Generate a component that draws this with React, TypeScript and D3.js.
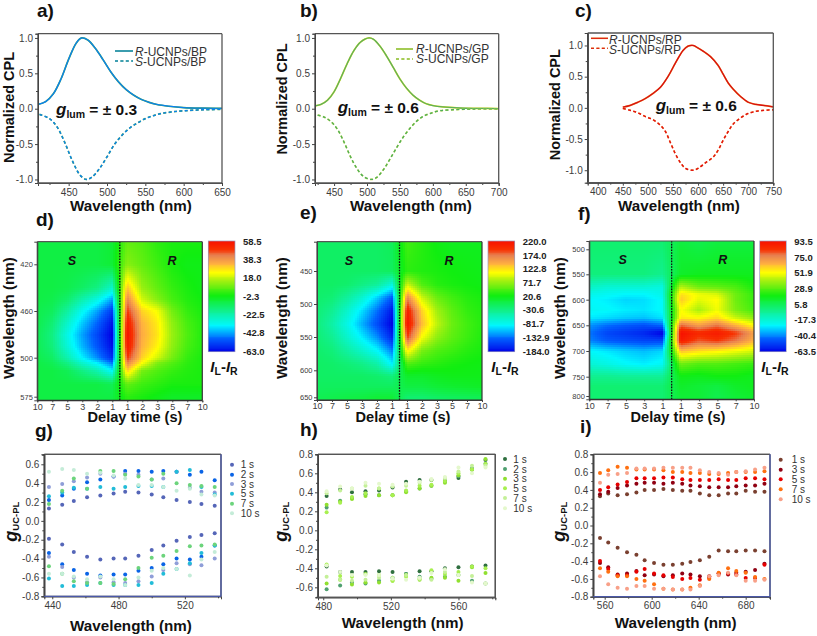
import React, { useEffect, useRef } from "react";
import * as d3 from "d3";

// ---------- CPL spectra (wavelength nm, normalized value) ----------
const aRWave = [410,420,430,440,450,460,467,475,485,495,505,515,525,535,545,555,565,580,600,625,650];
const aRVal = [.06,.10,.21,.42,.70,.93,1.0,.97,.85,.69,.52,.38,.27,.19,.13,.09,.06,.035,.015,.007,.005];
const aSWave = [412,425,435,445,455,465,473,480,490,500,510,520,530,540,550,560,570,585,600,625,650];
const aSVal = [-.08,-.14,-.26,-.48,-.74,-.94,-1.0,-.97,-.85,-.68,-.50,-.37,-.27,-.20,-.14,-.10,-.07,-.045,-.03,-.015,-.01];
const bRWave = [421,430,440,450,460,470,480,490,503,510,520,530,540,550,560,570,580,590,600,615,640,670,700];
const bRVal = [.04,.06,.12,.24,.43,.64,.82,.94,1.0,.98,.88,.74,.58,.42,.29,.19,.12,.07,.045,.025,.01,.005,.002];
const bSWave = [425,435,445,455,465,475,485,495,507,515,525,535,545,555,565,575,585,595,610,630,660,700];
const bSVal = [-.09,-.12,-.18,-.29,-.47,-.68,-.85,-.96,-1.0,-.97,-.86,-.71,-.55,-.40,-.28,-.18,-.11,-.07,-.03,-.015,-.005,-.002];
const cWave = [450,465,480,495,510,525,540,555,570,580,590,600,610,625,640,650,660,670,685,700,715,730,750];
const cRVal = [.01,.04,.09,.15,.23,.33,.50,.72,.92,.99,1.0,.96,.91,.82,.68,.54,.40,.30,.18,.09,.055,.04,.015];
const cSWave = [450,465,480,495,510,525,535,545,555,565,575,590,600,615,630,640,650,660,670,685,700,715,730,750];
const cSVal = [-.01,-.04,-.08,-.14,-.19,-.28,-.38,-.56,-.74,-.88,-.97,-1.0,-.97,-.88,-.79,-.68,-.52,-.38,-.26,-.16,-.09,-.055,-.04,-.03];

// ---------- heat maps ----------
const delayD = ["10","7","5","3","2","1","1","2","3","5","7","10"];
const delayF = ["10","7","5","3","1","1","3","5","7","10"];
const dRows = [400,420,440,450,460,470,480,490,500,510,525,550,575,580];
const dMatrix = [
  [-8,-8,-8,-8,-8,-6,8,6,2,0,0,0],
  [-8,-8,-8,-8,-8,-6,12,8,4,0,-2,-2],
  [-8,-8,-9,-12,-16,-26,32,14,8,3,0,-2],
  [-8,-9,-13,-22,-30,-42,42,20,12,5,1,-1],
  [-9,-11,-20,-32,-42,-54,50,30,24,10,3,0],
  [-9,-14,-26,-38,-48,-60,56,34,27,13,5,1],
  [-10,-16,-30,-42,-52,-63,58.5,35,28,14,6,1],
  [-10,-15,-28,-40,-50,-61,57,34,26,13,5,1],
  [-9,-12,-22,-34,-44,-56,50,30,20,10,3,0],
  [-8,-10,-16,-26,-34,-46,42,24,11,6,2,0],
  [-8,-8,-10,-16,-22,-33,30,10,6,3,1,0],
  [-8,-8,-8,-8,-8,-10,8,4,2,0,0,0],
  [-8,-8,-8,-8,-8,-8,2,0,-2,-4,-4,-4],
  [-8,-8,-8,-8,-8,-8,2,0,-2,-4,-4,-4],
];
const eRows = [405,450,470,490,510,530,550,570,590,610,630,650,655];
const eMatrix = [
  [-15,-15,-15,-15,-15,-10,40,30,20,15,15,15],
  [-15,-15,-15,-15,-15,-12,32,28,25,22,20,18],
  [-15,-15,-18,-28,-38,-70,90,45,30,25,22,20],
  [-18,-22,-40,-65,-100,-140,165,90,55,40,30,25],
  [-22,-35,-62,-95,-130,-172,210,125,75,50,35,28],
  [-25,-45,-75,-110,-145,-184,220,135,85,55,40,30],
  [-22,-35,-62,-90,-120,-165,190,105,68,50,38,28],
  [-18,-24,-42,-62,-85,-125,115,60,45,38,30,25],
  [-15,-17,-22,-30,-45,-88,45,35,30,25,22,20],
  [-15,-15,-15,-15,-18,-25,10,10,15,18,18,18],
  [-12,-12,-12,-12,-12,-12,0,0,5,8,10,12],
  [-8,-5,-2,0,5,5,-20,-20,-15,-12,-10,-8],
  [-8,-5,-2,0,5,5,-20,-20,-15,-12,-10,-8],
];
const fRows = [483,500,550,575,590,600,620,635,650,665,680,700,725,750,775,800,810];
const fMatrix = [
  [0,0,0,0,0,8,6,8,8,8],
  [0,0,0,0,-1,10,8,10,10,10],
  [-2,-2,-2,-2,-5,12,14,14,14,14],
  [-15,-18,-18,-18,-20,40,30,28,25,18],
  [-22,-24,-26,-26,-22,55,48,45,30,22],
  [-25,-27,-30,-29,-25,58,46,50,30,22],
  [-24,-25,-27,-28,-25,50,38,48,32,24],
  [-27,-29,-31,-32,-28,52,50,55,42,34],
  [-38,-43,-46,-48,-44,76,66,74,62,50],
  [-42,-50,-53,-56,-63.5,93.5,86,90,82,66],
  [-40,-46,-48,-50,-50,90,78,82,74,62],
  [-25,-28,-31,-33,-30,60,55,52,48,44],
  [-18,-21,-25,-27,-24,30,26,26,24,22],
  [-5,-5,-6,-6,-6,15,14,16,16,14],
  [0,0,0,0,0,12,10,8,12,14],
  [0,0,0,0,0,10,10,6,10,12],
  [0,0,0,0,0,10,10,8,10,12],
];
const dBarLabels = ["58.5","38.3","18.0","-2.3","-22.5","-42.8","-63.0"];
const eBarLabels = ["220.0","174.0","122.8","71.7","20.6","-30.6","-81.7","-132.9","-184.0"];
const fBarLabels = ["93.5","75.0","51.9","28.9","5.8","-17.3","-40.4","-63.5"];
const rainbowStops = [0,.12,.24,.37,.51,.64,.72,.80,.87,.93,1];
const rainbowColors = ["#0000e6","#0060ff","#00f8ff","#10f090","#10ee10","#a0f010","#ffff00","#ffb040","#e88050","#f83000","#f81000"];

// ---------- g-factor scatter ----------
const gWave = [438,446,453,461,469,477,484,492,500,507,515,523,530,538];
const gNames = ["1 s","2 s","3 s","5 s","7 s","10 s"];
const gColors = ["#5566b8","#0a64e6","#8f9ed8","#22bcd8","#6cd47c","#c4ecd8"];
const gTop = [
  [.13,.17,.21,.25,.27,.29,.31,.30,.28,.25,.22,.20,.18,.16],
  [.22,.27,.34,.41,.44,.47,.53,.53,.52,.53,.52,.49,.52,.43],
  [.36,.39,.42,.46,.50,.47,.50,.49,.44,.45,.52,.35,.31,.30],
  [.26,.30,.35,.34,.36,.34,.36,.37,.37,.36,.52,.54,.36,.28],
  [.18,.32,.45,.34,.53,.53,.49,.47,.44,.50,.40,.38,.37,.36],
  [.52,.55,.54,.50,.51,.48,.45,.38,.38,.36,.32,.34,.28,.27],
];
const gBottom = [
  [-.19,-.25,-.33,-.38,-.41,-.40,-.40,-.37,-.31,-.26,-.21,-.17,-.15,-.13],
  [-.34,-.46,-.52,-.56,-.58,-.57,-.57,-.53,-.50,-.46,-.40,-.41,-.38,-.26],
  [-.38,-.49,-.60,-.65,-.60,-.65,-.66,-.64,-.59,-.52,-.45,-.46,-.47,-.40],
  [-.61,-.69,-.69,-.68,-.66,-.68,-.68,-.68,-.66,-.56,-.51,-.45,-.34,-.26],
  [-.48,-.56,-.64,-.66,-.66,-.67,-.62,-.50,-.39,-.37,-.32,-.27,-.26,-.25],
  [-.56,-.56,-.59,-.62,-.59,-.62,-.68,-.60,-.53,-.50,-.51,-.58,-.41,-.33],
];
const hWave = [482,490,497,505,513,521,529,537,544,552,560,568,576];
const hNames = ["1 s","2 s","3 s","5 s","7 s","10 s"];
const hColors = ["#2f6f3f","#4fa070","#90e030","#a8f050","#c4f098","#e4f8cc"];
const hTop = [
  [.36,.43,.40,.41,.42,.45,.51,.53,.53,.52,.55,.64,.74],
  [.24,.31,.34,.38,.37,.37,.41,.44,.47,.51,.57,.65,.70],
  [.27,.30,.33,.36,.37,.37,.40,.44,.47,.50,.58,.64,.75],
  [.19,.29,.35,.39,.44,.37,.42,.47,.48,.52,.60,.64,.70],
  [.39,.42,.44,.47,.44,.46,.47,.50,.53,.55,.62,.68,.68],
  [.41,.46,.44,.50,.49,.48,.49,.51,.54,.56,.66,.60,.66],
];
const hBottom = [
  [-.38,-.44,-.44,-.44,-.43,-.44,-.46,-.43,-.43,-.40,-.39,-.38,-.37],
  [-.62,-.58,-.55,-.56,-.53,-.50,-.46,-.49,-.51,-.49,-.47,-.53,-.56],
  [-.56,-.52,-.57,-.55,-.55,-.53,-.47,-.52,-.50,-.50,-.53,-.39,-.45],
  [-.36,-.48,-.49,-.46,-.47,-.53,-.49,-.51,-.42,-.46,-.44,-.38,-.40],
  [-.49,-.52,-.53,-.52,-.50,-.50,-.47,-.51,-.52,-.44,-.47,-.48,-.56],
  [-.37,-.44,-.47,-.47,-.47,-.51,-.52,-.50,-.45,-.41,-.47,-.55,-.56],
];
const iWave = [556,563,571,579,587,594,602,610,618,626,633,641,649,657,665,672,680,688,696];
const iNames = ["1 s","3 s","5 s","7 s","10 s"];
const iColors = ["#7a4030","#900012","#e60000","#ff7010","#f8a088"];
const iTop = [
  [.33,.36,.34,.35,.37,.40,.40,.41,.40,.39,.39,.36,.34,.34,.36,.36,.39,.38,.38],
  [.35,.38,.42,.45,.47,.48,.48,.47,.48,.47,.45,.44,.43,.43,.43,.44,.45,.45,.47],
  [.40,.43,.46,.49,.53,.53,.53,.54,.54,.52,.51,.51,.51,.52,.51,.51,.53,.53,.52],
  [.59,.62,.66,.65,.63,.63,.63,.62,.60,.60,.59,.59,.58,.58,.59,.60,.60,.60,.61],
  [.48,.57,.58,.59,.64,.64,.64,.65,.65,.65,.65,.62,.60,.59,.57,.60,.61,.63,.65],
];
const iBottom = [
  [-.14,-.19,-.25,-.30,-.33,-.39,-.42,-.44,-.44,-.43,-.41,-.39,-.35,-.28,-.29,-.29,-.28,-.28,-.29],
  [-.42,-.47,-.55,-.54,-.51,-.56,-.55,-.57,-.56,-.54,-.55,-.57,-.57,-.54,-.55,-.53,-.52,-.50,-.43],
  [-.40,-.49,-.56,-.56,-.52,-.49,-.54,-.56,-.58,-.60,-.59,-.61,-.59,-.54,-.54,-.55,-.59,-.59,-.44],
  [-.48,-.52,-.57,-.57,-.60,-.62,-.66,-.71,-.72,-.72,-.70,-.67,-.60,-.53,-.48,-.51,-.53,-.58,-.60],
  [-.57,-.66,-.70,-.71,-.68,-.68,-.71,-.71,-.72,-.72,-.72,-.68,-.57,-.56,-.53,-.56,-.62,-.62,-.61],
];

const FONT = "'Liberation Sans', Arial, sans-serif";
const INK = "#3c3c3c";
type Sel = d3.Selection<SVGGElement, unknown, null, undefined>;

function label(g: Sel, x: number, y: number, s: string, size: number, opts: any = {}) {
  const t = g.append("text").attr("x", x).attr("y", y).text(s)
    .attr("font-size", size).attr("font-family", FONT).attr("fill", opts.fill ?? "#111")
    .attr("font-weight", opts.weight ?? "bold").attr("text-anchor", opts.anchor ?? "start");
  if (opts.italic) t.attr("font-style", "italic");
  if (opts.rotate) t.attr("transform", `rotate(-90 ${x} ${y})`);
  return t;
}

function frame(g: Sel, x0: number, x1: number, y0: number, y1: number, low = "#555", w = 1.3) {
  const seg = (a: number, b: number, c: number, d: number, col: string) =>
    g.append("line").attr("x1", a).attr("y1", b).attr("x2", c).attr("y2", d).attr("stroke", col).attr("stroke-width", w);
  seg(x0, y0, x1, y0, "#555");
  seg(x0, y0, x0, y1, "#444");
  seg(x1, y0, x1, y1, low);
  seg(x0, y1, x1, y1, low);
}

function styleAxis(a: Sel, size: number, weight = "normal") {
  a.selectAll("path").attr("stroke", "#444").attr("stroke-width", 1);
  a.selectAll("line").attr("stroke", "#444").attr("stroke-width", 1);
  a.selectAll("text").attr("font-size", size).attr("font-family", FONT).attr("fill", INK).attr("font-weight", weight);
}

function axes(g: Sel, x: any, y: any, xT: number[], xM: number[], yT: number[], yM: number[], yFmt: (v: number) => string, size = 10) {
  const [x0, x1] = x.range();
  const [y1, y0] = y.range();
  const bottom = g.append("g").attr("transform", `translate(0,${y1})`);
  bottom.call(d3.axisBottom(x).tickValues(xM).tickSize(2).tickFormat(() => "") as any);
  bottom.append("g").call(d3.axisBottom(x).tickValues(xT).tickSize(3).tickPadding(2.5).tickFormat((d: any) => String(d)) as any);
  styleAxis(bottom, size);
  const left = g.append("g").attr("transform", `translate(${x0},0)`);
  left.call(d3.axisLeft(y).tickValues(yM).tickSize(2).tickFormat(() => "") as any);
  left.append("g").call(d3.axisLeft(y).tickValues(yT).tickSize(3).tickPadding(2).tickFormat((d: any) => yFmt(d)) as any);
  styleAxis(left, size);
  frame(g, x0, x1, y0, y1);
}

function cplPanel(g: Sel, box: number[], xDom: number[], yDom: number[], xT: number[], xM: number[], yT: number[], yM: number[],
  series: { w: number[]; v: number[]; under: string; over: string; dash: boolean }[]) {
  const x = d3.scaleLinear().domain(xDom).range([box[0], box[1]]);
  const y = d3.scaleLinear().domain(yDom).range([box[3], box[2]]);
  const line = (w: number[], v: number[]) =>
    d3.line<number>().x((_, i) => x(w[i])).y(d => y(d)).curve(d3.curveCatmullRom)(v);
  series.forEach(s => {
    g.append("path").attr("d", line(s.w, s.v)!).attr("fill", "none").attr("stroke", s.under).attr("stroke-width", 1.7)
      .attr("stroke-dasharray", s.dash ? "3 2.4" : null);
    g.append("path").attr("d", line(s.w, s.v)!).attr("fill", "none").attr("stroke", s.over).attr("stroke-width", 1.3)
      .attr("stroke-dasharray", s.dash ? "3 2.4" : null);
  });
  axes(g, x, y, xT, xM, yT, yM, v => d3.format(".1f")(v).replace("−", "-"));
}

function legendCpl(g: Sel, x0: number, x1: number, tx: number, y1: number, y2: number, base1: number, base2: number, r: string, s: string, cUnder: string, cOver: string) {
  [[y1, base1, "R", r, false], [y2, base2, "S", s, true]].forEach(([ly, by, ch, rest, dash]: any) => {
    g.append("line").attr("x1", x0).attr("x2", x1).attr("y1", ly).attr("y2", ly).attr("stroke", cUnder).attr("stroke-width", 1.6)
      .attr("stroke-dasharray", dash ? "3 2.4" : null);
    g.append("line").attr("x1", x0).attr("x2", x1).attr("y1", ly).attr("y2", ly).attr("stroke", cOver).attr("stroke-width", 1)
      .attr("stroke-dasharray", dash ? "3 2.4" : null);
    const t = g.append("text").attr("x", tx).attr("y", by).attr("font-size", 12).attr("font-family", FONT).attr("fill", "#333");
    t.append("tspan").attr("font-style", "italic").text(ch);
    t.append("tspan").text(rest);
  });
}

function gLum(g: Sel, x: number, y: number, val: string) {
  const t = g.append("text").attr("x", x).attr("y", y).attr("font-family", FONT).attr("font-weight", "bold").attr("fill", "#111").attr("font-size", 15.5);
  t.append("tspan").attr("font-style", "italic").attr("font-size", 17).text("g");
  t.append("tspan").attr("font-size", 10.5).attr("dy", 3).text("lum");
  t.append("tspan").attr("dy", -3).text(` = ± ${val}`);
}

function heatPanel(g: Sel, box: number[], delays: string[], rows: number[], matrix: number[][], vMin: number, vMax: number,
  yDom: number[], yRange: number[], yTicks: number[], bar: number[], barLabels: string[], barTextX: number, sx: number, rx: number, ilX: number) {
  const [x0, x1, y0, y1] = box;
  const col = d3.scaleLinear().domain([0, delays.length - 1]).range([x0, x1]);
  const yw = d3.scaleLinear().domain(yDom).range(yRange);
  const t = d3.scaleLinear().domain([vMin, vMax]).range([0, 1]);
  const color = d3.scaleLinear<string>().domain(rainbowStops).range(rainbowColors).clamp(true);
  const rowPx = rows.map(r => yw(r));
  const step = 2;
  const cells = g.append("g").attr("shape-rendering", "crispEdges");
  for (let py = y0; py < y1; py += step) {
    const wy = py + step / 2;
    let r = d3.bisectRight(rowPx, wy) - 1;
    r = Math.max(0, Math.min(rows.length - 2, r));
    const fy = Math.max(0, Math.min(1, (wy - rowPx[r]) / (rowPx[r + 1] - rowPx[r])));
    for (let px = x0; px < x1; px += step) {
      const c = col.invert(px + step / 2);
      const ci = Math.max(0, Math.min(delays.length - 2, Math.floor(c)));
      const fx = c - ci;
      const v = d3.interpolateNumber(
        d3.interpolateNumber(matrix[r][ci], matrix[r][ci + 1])(fx),
        d3.interpolateNumber(matrix[r + 1][ci], matrix[r + 1][ci + 1])(fx))(fy);
      cells.append("rect").attr("x", px).attr("y", py).attr("width", Math.min(step + .5, x1 - px)).attr("height", Math.min(step + .5, y1 - py))
        .attr("fill", color(t(v)));
    }
  }
  g.append("line").attr("x1", col((delays.length - 1) / 2)).attr("x2", col((delays.length - 1) / 2)).attr("y1", y0).attr("y2", y1)
    .attr("stroke", "#111").attr("stroke-width", 1.3).attr("stroke-dasharray", "1.6 1.2");
  const bottom = g.append("g").attr("transform", `translate(0,${y1})`);
  bottom.call(d3.axisBottom(col).tickValues(delays.map((_, i) => i)).tickSize(2).tickPadding(1).tickFormat((_: any, i: number) => delays[i]) as any);
  styleAxis(bottom, 9);
  const left = g.append("g").attr("transform", `translate(${x0},0)`);
  left.call(d3.axisLeft(yw).tickValues(yTicks).tickSize(3).tickPadding(1.5).tickFormat((d: any) => String(d)) as any);
  styleAxis(left, 7.5);
  frame(g, x0, x1, y0, y1, "#333", 1.2);
  label(g, sx, y0 + 23, "S", 12.5, { italic: true, anchor: "middle" });
  label(g, rx, y0 + 23, "R", 12.5, { italic: true, anchor: "middle" });
  const [bx0, bx1, by0, by1] = bar;
  const by = d3.scaleLinear().domain([0, 1]).range([by1, by0]);
  const cb = g.append("g").attr("shape-rendering", "crispEdges");
  d3.range(0, 1, 1 / 120).forEach(v => {
    cb.append("rect").attr("x", bx0).attr("width", bx1 - bx0).attr("y", by(v + 1 / 120)).attr("height", (by1 - by0) / 120 + .5).attr("fill", color(v + 1 / 240));
  });
  g.append("rect").attr("x", bx0).attr("y", by0).attr("width", bx1 - bx0).attr("height", by1 - by0).attr("fill", "none").attr("stroke", "#9a9ac0").attr("stroke-width", .7);
  const lab = d3.scalePoint<string>().domain(barLabels).range([by0 + .5, by1 - .5]);
  barLabels.forEach(s => label(g, barTextX, lab(s)! + 3.4, s, 9.5, { weight: "bold", fill: "#222" }));
  const il = g.append("text").attr("x", ilX).attr("y", by1 + 20).attr("text-anchor", "middle").attr("font-family", FONT).attr("font-weight", "bold").attr("font-size", 15).attr("fill", "#111");
  il.append("tspan").attr("font-style", "italic").text("I");
  il.append("tspan").attr("font-size", 10.5).attr("dy", 3).text("L");
  il.append("tspan").attr("dy", -3).text("-");
  il.append("tspan").attr("font-style", "italic").text("I");
  il.append("tspan").attr("font-size", 10.5).attr("dy", 3).text("R");
}

function scatterPanel(g: Sel, box: number[], xDom: number[], yDom: number[], xT: number[], xM: number[], yT: number[], yM: number[],
  wave: number[], tops: number[][], bottoms: number[][], colors: string[], names: string[], legendX: number, textX: number, legendY: number[], low: string) {
  const x = d3.scaleLinear().domain(xDom).range([box[0], box[1]]);
  const y = d3.scaleLinear().domain(yDom).range([box[3], box[2]]);
  colors.forEach((c, s) => {
    [tops[s], bottoms[s]].forEach(vals => {
      g.append("g").selectAll("circle").data(vals).join("circle")
        .attr("cx", (_, i) => x(wave[i])).attr("cy", d => y(d)).attr("r", 2).attr("fill", c);
    });
  });
  axes(g, x, y, xT, xM, yT, yM, v => d3.format(".1f")(v).replace("−", "-"));
  frame(g, box[0], box[1], box[2], box[3], low);
  names.forEach((n, i) => {
    g.append("circle").attr("cx", legendX).attr("cy", legendY[i]).attr("r", 2).attr("fill", colors[i]);
    label(g, textX, legendY[i] + 3.5, n, 10, { weight: "normal", fill: "#333" });
  });
}

function gUc(g: Sel, x: number, yBottom: number) {
  const t = g.append("text").attr("transform", `translate(${x},${yBottom}) rotate(-90)`).attr("font-family", FONT).attr("font-weight", "bold").attr("fill", "#111");
  t.append("tspan").attr("font-style", "italic").attr("font-size", 18).text("g");
  t.append("tspan").attr("font-size", 9.5).attr("dy", 2).text("UC-PL");
}

export default function App() {
  const ref = useRef<SVGSVGElement>(null);
  useEffect(() => {
    const svg = d3.select(ref.current!);
    svg.selectAll("*").remove();
    const g = svg.append("g") as unknown as Sel;

    const yTen = [-1, -.5, 0, .5, 1];
    const yTenM = [-.75, -.25, .25, .75];
    const PAN_Y = [33.7, 183];
    cplPanel(g, [38, 222, PAN_Y[0], PAN_Y[1]], [410, 650], [-1.05, 1.06], [450, 500, 550, 600, 650], [425, 475, 525, 575, 625], yTen, yTenM, [
      { w: aRWave, v: aRVal, under: "#48a848", over: "#0a80f0", dash: false },
      { w: aSWave, v: aSVal, under: "#48a848", over: "#0a80f0", dash: true },
    ]);
    legendCpl(g, 115, 133, 135, 51, 61, 56, 66, "-UCNPs/BP", "-UCNPs/BP", "#48a848", "#0a80f0");
    gLum(g, 56, 115, "0.3");

    cplPanel(g, [315, 498.7, PAN_Y[0], PAN_Y[1]], [421, 700], [-1.05, 1.06], [450, 500, 550, 600, 650, 700], [425, 475, 525, 575, 625, 675], yTen, yTenM, [
      { w: bRWave, v: bRVal, under: "#e8e020", over: "#5cb05c", dash: false },
      { w: bSWave, v: bSVal, under: "#c8d840", over: "#4cae5c", dash: true },
    ]);
    legendCpl(g, 396, 413, 416, 49, 59, 53, 63, "-UCNPs/GP", "-UCNPs/GP", "#e8e020", "#5cb05c");
    gLum(g, 337.7, 113, "0.6");

    cplPanel(g, [587.7, 773.3, 33, 182.7], [380, 750], [-1.2, 1.2], [400, 450, 500, 550, 600, 650, 700, 750], [425, 475, 525, 575, 625, 675, 725], yTen, yTenM, [
      { w: cWave, v: cRVal, under: "#f09030", over: "#d81010", dash: false },
      { w: cSWave, v: cSVal, under: "#f08030", over: "#e01010", dash: true },
    ]);
    legendCpl(g, 591, 608, 609, 38.3, 48.3, 44, 54, "-UCNPs/RP", "-UCNPs/RP", "#f09030", "#d81010");
    gLum(g, 655.7, 111, "0.6");

    label(g, 13.5, 107.5, "Normalized CPL", 14.5, { anchor: "middle", rotate: true });
    label(g, 286.7, 99, "Normalized CPL", 14.5, { anchor: "middle", rotate: true });
    label(g, 560, 104.7, "Normalized CPL", 14.5, { anchor: "middle", rotate: true });
    label(g, 131, 210.5, "Wavelength (nm)", 15.2, { anchor: "middle" });
    label(g, 411, 210.5, "Wavelength (nm)", 15.2, { anchor: "middle" });
    label(g, 679, 210.5, "Wavelength (nm)", 15.2, { anchor: "middle" });

    heatPanel(g, [37.3, 202.3, 241.7, 400.3], delayD, dRows, dMatrix, -63, 58.5,
      [400, 420, 460, 500, 575, 580], [241.7, 264.3, 311, 357.7, 396.7, 400.3], [420, 460, 500, 575],
      [208.3, 235, 241, 351.7], dBarLabels, 243, 72, 172, 224);
    heatPanel(g, [317, 482, 241.7, 400], delayD, eRows, eMatrix, -184, 220,
      [405, 450, 500, 550, 600, 650, 655], [241.7, 271, 304, 337, 370.3, 397.3, 400], [450, 500, 550, 600, 650],
      [488, 514.7, 241, 351.7], eBarLabels, 522.7, 349, 449, 505);
    heatPanel(g, [589.3, 754, 241, 399.3], delayF, fRows, fMatrix, -63.5, 93.5,
      [483, 500, 550, 600, 650, 700, 750, 800, 810], [241, 249.3, 274.3, 299.7, 325.3, 351, 376.7, 396, 399.3], [500, 550, 600, 650, 700, 750, 800],
      [759.7, 786.3, 241, 351.7], fBarLabels, 794.3, 622.7, 722.7, 775);
    label(g, 13.5, 318, "Wavelength (nm)", 15.2, { anchor: "middle", rotate: true });
    label(g, 287, 318, "Wavelength (nm)", 15.2, { anchor: "middle", rotate: true });
    label(g, 565, 318, "Wavelength (nm)", 15.2, { anchor: "middle", rotate: true });
    label(g, 135, 422, "Delay time (s)", 14.6, { anchor: "middle" });
    label(g, 403, 422, "Delay time (s)", 14.6, { anchor: "middle" });
    label(g, 678, 422, "Delay time (s)", 14.6, { anchor: "middle" });

    const sixTicks = [-.8, -.6, -.4, -.2, 0, .2, .4, .6];
    const sixMinor = [-.7, -.5, -.3, -.1, .1, .3, .5, .7];
    scatterPanel(g, [44.3, 221, 454.3, 596.3], [435.2, 541.8], [-.8, .706], [440, 480, 520], [460, 500, 540], sixTicks, sixMinor,
      gWave, gTop, gBottom, gColors, gNames, 232, 240.7, [464.7, 474.7, 484, 493.7, 503.7, 513.3], "#4a58a8");
    scatterPanel(g, [318, 495.3, 454.3, 597.3], [476.9, 581.8], [-.705, .8], [480, 520, 560], [500, 540, 580], [-.6, -.4, -.2, 0, .2, .4, .6, .8], [-.7, -.5, -.3, -.1, .1, .3, .5, .7],
      hWave, hTop, hBottom, hColors, hNames, 505, 513.3, [459, 469, 478.7, 488.3, 498, 508.3], "#555");
    scatterPanel(g, [593.3, 770, 454.3, 596.7], [550.3, 700.7], [-.8, .8], [560, 600, 640, 680], [580, 620, 660, 700], [-.8, -.6, -.4, -.2, 0, .2, .4, .6, .8], [-.7, -.5, -.3, -.1, .1, .3, .5, .7],
      iWave, iTop, iBottom, iColors, iNames, 780.7, 791.7, [459.7, 469.7, 479.3, 489.3, 499.3], "#4a58a8");
    gUc(g, 17, 541.7);
    gUc(g, 287, 541.7);
    gUc(g, 565, 541.7);
    label(g, 131, 630.5, "Wavelength (nm)", 15.2, { anchor: "middle" });
    label(g, 402.7, 628, "Wavelength (nm)", 15.2, { anchor: "middle" });
    label(g, 675.7, 628, "Wavelength (nm)", 15.2, { anchor: "middle" });

    const letters: [string, number, number][] = [
      ["a)", 37, 17.3], ["b)", 300, 17.3], ["c)", 575, 17.3], ["d)", 36, 226], ["e)", 300, 219], ["f)", 578, 220],
      ["g)", 35, 437], ["h)", 300, 436], ["i)", 580, 433],
    ];
    letters.forEach(([s, x, y]) => label(g, x, y, s, 19));
  }, []);
  return <svg ref={ref} width={817} height={636} viewBox="0 0 817 636" style={{ position: "absolute", left: 0, top: 0, background: "#fff" }} />;
}
